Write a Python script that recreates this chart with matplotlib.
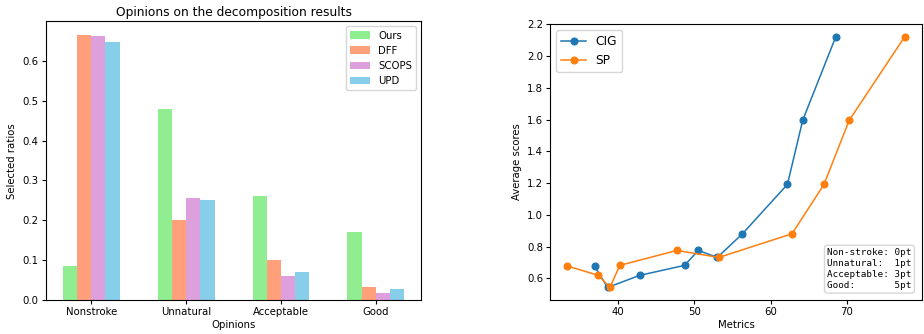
import matplotlib
matplotlib.use("Agg")
import matplotlib.pyplot as plt
import numpy as np

categories = ["Nonstroke", "Unnatural", "Acceptable", "Good"]
methods = ["Ours", "DFF", "SCOPS", "UPD"]
ours = [0.086, 0.480, 0.261, 0.172]
dff = [0.665, 0.200, 0.101, 0.033]
scops = [0.662, 0.257, 0.060, 0.019]
upd = [0.647, 0.251, 0.071, 0.029]
bar_colors = ["lightgreen", "lightsalmon", "plum", "skyblue"]

cig_x = [36.9, 38.6, 42.8, 48.7, 50.5, 53.0, 56.3, 62.2, 64.2, 68.55]
cig_y = [0.676, 0.543, 0.619, 0.682, 0.776, 0.732, 0.881, 1.192, 1.595, 2.122]
sp_x = [33.3, 37.4, 38.9, 40.2, 47.7, 53.2, 62.8, 67.0, 70.3, 77.6]
sp_y = [0.678, 0.619, 0.543, 0.682, 0.776, 0.732, 0.881, 1.192, 1.595, 2.122]

fs = 7.3
plt.rcParams['font.size'] = fs

fig = plt.figure(figsize=(9.24, 3.34), dpi=100)
ax1 = fig.add_axes([0.0495, 0.101, 0.4065, 0.835])
ax2 = fig.add_axes([0.5956, 0.1018, 0.4019, 0.8262])

x = np.arange(len(categories))
w = 0.15
for j, (name, vals) in enumerate(zip(methods, [ours, dff, scops, upd])):
    ax1.bar(x + (j - 1.5) * w, vals, w, label=name, color=bar_colors[j])
ax1.set_xticks(x)
ax1.set_xticklabels(categories)
ax1.set_xlabel("Opinions", fontsize=fs, labelpad=2)
ax1.set_ylabel("Selected ratios", fontsize=fs)
ax1.set_title("Opinions on the decomposition results", fontsize=8.8, pad=4)
ax1.legend(loc="upper right", fontsize=fs)
ax1.tick_params(labelsize=fs, length=2.6, pad=2.5)

ax2.plot(cig_x, cig_y, marker="o", color="tab:blue", label="CIG", markersize=4.8, linewidth=1.1)
ax2.plot(sp_x, sp_y, marker="o", color="tab:orange", label="SP", markersize=4.8, linewidth=1.1)
ax2.set_xlabel("Metrics", fontsize=fs, labelpad=2)
ax2.set_ylabel("Average scores", fontsize=fs)
ax2.set_yticks(np.arange(0.6, 2.21, 0.2))
ax2.legend(loc="upper left", fontsize=8.8)
ax2.tick_params(labelsize=fs, length=2.6, pad=2.5)
ax2.text(0.973, 0.035,
         "Non-stroke: 0pt\nUnnatural:  1pt\nAcceptable: 3pt\nGood:       5pt",
         transform=ax2.transAxes, ha="right", va="bottom", multialignment="left",
         family="DejaVu Sans Mono", fontsize=6.7, linespacing=1.3,
         bbox=dict(boxstyle="round,pad=0.3", facecolor="white", edgecolor="lightgray", alpha=0.9))

fig.savefig("out.png", dpi=100)
